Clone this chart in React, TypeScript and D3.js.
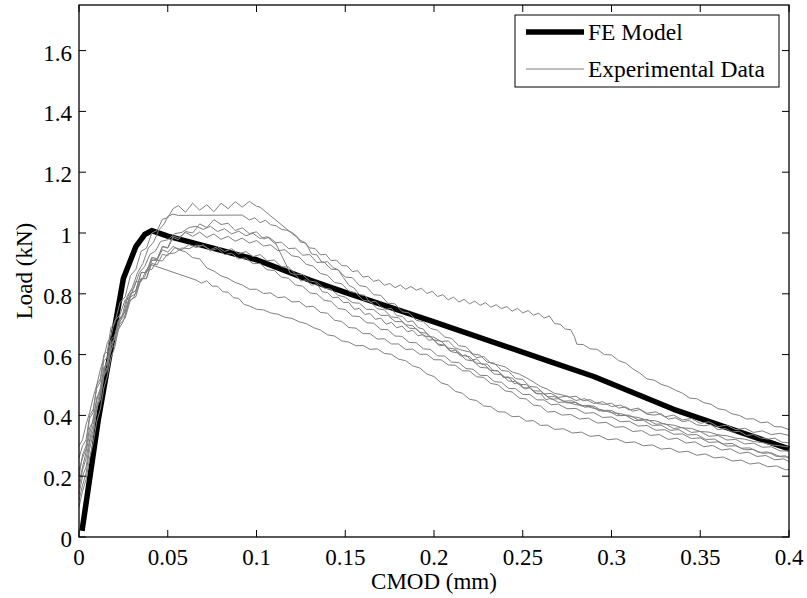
import * as d3 from "d3";

// FE model curve (CMOD mm, load kN)
const feModel: [number, number][] = [
  [0.0017, 0.02], [0.011, 0.39], [0.025, 0.85], [0.032, 0.955], [0.037, 0.995],
  [0.041, 1.008], [0.05, 0.99], [0.1, 0.912], [0.13, 0.845], [0.15, 0.805],
  [0.2, 0.708], [0.265, 0.578], [0.29, 0.528], [0.335, 0.42], [0.37, 0.35], [0.4, 0.29],
];

// experimental specimens
const spec1: [number, number][] = [
  [0,0.2],[0.002,0.27],[0.004,0.3],[0.006,0.39],[0.008,0.41],[0.01,0.5],[0.012,0.52],[0.014,0.6],[0.016,0.61],[0.018,0.69],[0.02,0.7],[0.023,0.77],[0.026,0.79],[0.029,0.86],[0.032,0.88],[0.035,0.94],[0.038,0.95],[0.041,1.0],[0.044,1.008],[0.047,1.045],[0.05,1.05],[0.053,1.08],[0.056,1.09],[0.06,1.068],[0.064,1.098],[0.068,1.075],[0.072,1.093],[0.076,1.07],[0.08,1.098],[0.084,1.08],[0.088,1.103],[0.092,1.085],[0.096,1.104],[0.1,1.088],[0.102,1.085],
  [0.1245,0.977],[0.128,0.966],[0.131,0.931],[0.134,0.928],[0.137,0.902],[0.14,0.906],[0.143,0.887],[0.146,0.879],[0.149,0.853],[0.152,0.828],[0.155,0.819],[0.158,0.797],[0.161,0.795],[0.164,0.771],[0.167,0.776],[0.17,0.758],[0.173,0.749],[0.176,0.752],[0.179,0.728],[0.182,0.726],[0.185,0.708],[0.188,0.711],[0.191,0.689],[0.194,0.684],[0.197,0.66],[0.2,0.657],[0.204,0.643],[0.208,0.645],[0.212,0.622],[0.216,0.614],[0.22,0.609],[0.224,0.59],[0.228,0.594],[0.232,0.572],[0.236,0.566],[0.24,0.56],[0.244,0.543],[0.248,0.536],[0.252,0.524],[0.256,0.51],[0.26,0.495],[0.264,0.486],[0.268,0.472],[0.272,0.468],[0.276,0.46],[0.28,0.463],[0.284,0.448],[0.288,0.452],[0.292,0.439],[0.296,0.436],[0.3,0.44],[0.304,0.424],[0.308,0.428],[0.312,0.414],[0.316,0.419],[0.32,0.404],[0.324,0.401],[0.328,0.405],[0.332,0.388],[0.336,0.392],[0.34,0.38],[0.344,0.383],[0.348,0.369],[0.352,0.366],[0.356,0.37],[0.36,0.353],[0.364,0.357],[0.368,0.345],[0.372,0.348],[0.376,0.334],[0.38,0.337],[0.384,0.326],[0.388,0.322],[0.392,0.325],[0.396,0.312],[0.4,0.31],
];
const spec2: [number, number][] = [
  [0,0.16],[0.002,0.22],[0.004,0.26],[0.006,0.32],[0.008,0.37],[0.01,0.43],[0.012,0.48],[0.015,0.56],[0.018,0.61],[0.021,0.68],[0.024,0.72],[0.027,0.79],[0.03,0.82],[0.033,0.87],[0.036,0.9],[0.039,0.95],[0.042,0.97],[0.045,1.01],[0.048,1.03],[0.05,1.055],[0.053,1.062],[0.056,1.058],[0.092,1.059],
  [0.096,1.043],[0.099,1.05],[0.102,1.034],[0.105,1.042],[0.108,1.027],[0.111,1.024],[0.114,1.012],[0.117,1.009],[0.12,1.002],[0.123,0.988],[0.1245,0.971],[0.127,0.968],[0.13,0.951],[0.133,0.949],[0.136,0.928],[0.139,0.93],[0.142,0.909],[0.145,0.911],[0.148,0.893],[0.151,0.892],[0.154,0.873],[0.157,0.876],[0.16,0.855],[0.163,0.858],[0.166,0.841],[0.169,0.846],[0.172,0.828],[0.175,0.834],[0.178,0.82],[0.181,0.829],[0.184,0.815],[0.187,0.824],[0.19,0.812],[0.193,0.818],[0.196,0.801],[0.199,0.808],[0.202,0.791],[0.205,0.797],[0.208,0.78],[0.211,0.789],[0.214,0.773],[0.217,0.782],[0.22,0.767],[0.223,0.776],[0.226,0.762],[0.229,0.771],[0.232,0.756],[0.235,0.764],[0.238,0.751],[0.241,0.758],[0.244,0.743],[0.247,0.752],[0.25,0.737],[0.253,0.745],[0.256,0.73],[0.259,0.736],[0.262,0.72],[0.265,0.727],[0.268,0.702],[0.271,0.7],[0.274,0.684],[0.277,0.682],[0.279,0.66],[0.2805,0.634],[0.284,0.633],[0.288,0.619],[0.292,0.617],[0.296,0.6],[0.3,0.599],[0.304,0.58],[0.308,0.572],[0.312,0.553],[0.316,0.539],[0.32,0.52],[0.324,0.516],[0.328,0.502],[0.332,0.495],[0.336,0.483],[0.34,0.473],[0.344,0.457],[0.348,0.455],[0.352,0.442],[0.356,0.437],[0.36,0.422],[0.364,0.418],[0.368,0.405],[0.372,0.4],[0.376,0.388],[0.38,0.389],[0.384,0.376],[0.388,0.378],[0.392,0.363],[0.396,0.362],[0.4,0.353],
];
const spec3: [number, number][] = [
  [0,0.26],[0.002,0.3],[0.004,0.32],[0.006,0.4],[0.008,0.42],[0.01,0.49],[0.012,0.51],[0.014,0.58],[0.016,0.59],[0.018,0.65],[0.02,0.66],[0.023,0.72],[0.026,0.74],[0.029,0.8],[0.032,0.81],[0.035,0.87],[0.038,0.87],[0.041,0.92],[0.044,0.915],[0.047,0.955],[0.05,0.95],[0.053,0.985],[0.056,0.978],[0.06,1.005],[0.064,1.0],[0.068,1.03],[0.072,1.018],[0.076,1.044],[0.08,1.028],[0.084,1.032],[0.088,1.008],[0.092,1.017],[0.096,0.998],[0.1,1.004],[0.104,0.98],[0.107,0.986],[0.1104,0.971],
  [0.119,0.868],[0.122,0.862],[0.125,0.842],[0.128,0.846],[0.131,0.828],[0.134,0.833],[0.137,0.807],[0.14,0.804],[0.143,0.787],[0.146,0.789],[0.149,0.771],[0.152,0.772],[0.155,0.749],[0.158,0.752],[0.161,0.732],[0.164,0.735],[0.167,0.716],[0.17,0.72],[0.173,0.7],[0.176,0.706],[0.179,0.688],[0.182,0.694],[0.185,0.675],[0.188,0.68],[0.191,0.662],[0.194,0.666],[0.197,0.647],[0.2,0.65],[0.203,0.629],[0.206,0.631],[0.209,0.611],[0.212,0.615],[0.215,0.595],[0.218,0.599],[0.221,0.581],[0.224,0.586],[0.227,0.568],[0.23,0.569],[0.233,0.549],[0.236,0.547],[0.239,0.525],[0.242,0.527],[0.245,0.505],[0.248,0.507],[0.251,0.487],[0.254,0.492],[0.257,0.473],[0.26,0.472],[0.263,0.452],[0.266,0.456],[0.27,0.443],[0.275,0.444],[0.28,0.435],[0.285,0.432],[0.29,0.423],[0.295,0.418],[0.3,0.409],[0.305,0.406],[0.31,0.397],[0.315,0.393],[0.32,0.384],[0.325,0.382],[0.33,0.371],[0.335,0.368],[0.34,0.359],[0.345,0.357],[0.35,0.347],[0.355,0.345],[0.36,0.336],[0.365,0.333],[0.37,0.325],[0.375,0.322],[0.38,0.314],[0.385,0.311],[0.39,0.303],[0.395,0.3],[0.4,0.296],
];
const spec4: [number, number][] = [
  [0,0.12],[0.002,0.17],[0.004,0.21],[0.006,0.29],[0.008,0.34],[0.01,0.42],[0.012,0.46],[0.014,0.53],[0.016,0.56],[0.018,0.63],[0.02,0.65],[0.022,0.71],[0.025,0.73],[0.028,0.8],[0.031,0.82],[0.034,0.87],[0.037,0.89],[0.04,0.93],[0.043,0.94],[0.046,0.972],[0.05,0.978],[0.054,0.998],[0.058,1.002],[0.062,1.018],[0.066,1.022],
  [0.07,1.012],[0.074,1.022],[0.078,1.005],[0.082,1.014],[0.086,0.997],[0.09,1.006],[0.094,0.991],[0.098,0.999],[0.102,0.982],[0.106,0.988],[0.11,0.967],[0.114,0.97],[0.118,0.949],[0.122,0.95],[0.126,0.927],[0.13,0.929],[0.134,0.903],[0.138,0.905],[0.142,0.881],[0.146,0.879],[0.15,0.855],[0.154,0.853],[0.158,0.827],[0.162,0.823],[0.166,0.797],[0.17,0.795],[0.174,0.769],[0.178,0.767],[0.182,0.741],[0.186,0.737],[0.19,0.713],[0.194,0.708],[0.198,0.686],[0.202,0.68],[0.206,0.658],[0.21,0.653],[0.214,0.629],[0.218,0.626],[0.222,0.602],[0.226,0.598],[0.23,0.575],[0.234,0.572],[0.238,0.548],[0.242,0.545],[0.246,0.521],[0.25,0.518],[0.254,0.495],[0.258,0.493],[0.262,0.471],[0.266,0.472],[0.27,0.459],[0.275,0.464],[0.28,0.449],[0.285,0.455],[0.29,0.439],[0.295,0.445],[0.3,0.429],[0.305,0.434],[0.31,0.418],[0.315,0.424],[0.32,0.407],[0.325,0.412],[0.33,0.395],[0.335,0.401],[0.34,0.385],[0.345,0.39],[0.35,0.374],[0.355,0.379],[0.36,0.363],[0.365,0.368],[0.37,0.353],[0.375,0.358],[0.38,0.344],[0.385,0.349],[0.39,0.337],[0.395,0.341],[0.4,0.334],
];
const spec5: [number, number][] = [
  [0,0.3],[0.002,0.32],[0.004,0.37],[0.006,0.41],[0.008,0.46],[0.01,0.5],[0.012,0.55],[0.014,0.59],[0.016,0.64],[0.018,0.66],[0.02,0.71],[0.023,0.73],[0.026,0.78],[0.029,0.79],[0.032,0.84],[0.035,0.84],[0.038,0.88],[0.041,0.88],[0.044,0.91],[0.047,0.908],[0.05,0.932],[0.054,0.934],[0.058,0.951],[0.062,0.948],[0.066,0.96],[0.07,0.958],
  [0.074,0.945],[0.078,0.955],[0.082,0.939],[0.086,0.948],[0.09,0.931],[0.094,0.939],[0.098,0.922],[0.102,0.929],[0.106,0.909],[0.11,0.911],[0.114,0.889],[0.118,0.888],[0.122,0.865],[0.126,0.863],[0.13,0.842],[0.134,0.838],[0.138,0.819],[0.142,0.815],[0.146,0.795],[0.15,0.789],[0.154,0.771],[0.158,0.769],[0.162,0.749],[0.166,0.748],[0.17,0.729],[0.174,0.729],[0.178,0.709],[0.182,0.708],[0.186,0.687],[0.19,0.685],[0.194,0.662],[0.198,0.658],[0.202,0.635],[0.206,0.631],[0.21,0.609],[0.214,0.605],[0.218,0.583],[0.222,0.579],[0.226,0.558],[0.23,0.556],[0.234,0.536],[0.238,0.534],[0.242,0.513],[0.246,0.511],[0.25,0.491],[0.254,0.49],[0.258,0.471],[0.262,0.471],[0.266,0.453],[0.27,0.455],[0.275,0.441],[0.28,0.443],[0.285,0.427],[0.29,0.431],[0.295,0.413],[0.3,0.416],[0.305,0.4],[0.31,0.401],[0.315,0.385],[0.32,0.387],[0.325,0.371],[0.33,0.373],[0.335,0.357],[0.34,0.36],[0.345,0.344],[0.35,0.347],[0.355,0.331],[0.36,0.334],[0.365,0.319],[0.37,0.321],[0.375,0.306],[0.38,0.309],[0.385,0.295],[0.39,0.297],[0.395,0.283],[0.4,0.283],
];
const spec6: [number, number][] = [
  [0,0.18],[0.002,0.23],[0.004,0.28],[0.006,0.34],[0.008,0.39],[0.01,0.45],[0.012,0.49],[0.014,0.55],[0.016,0.58],[0.018,0.63],[0.02,0.65],[0.023,0.71],[0.026,0.73],[0.029,0.79],[0.032,0.8],[0.035,0.85],[0.038,0.85],[0.041,0.9],[0.044,0.895],[0.047,0.93],[0.05,0.925],[0.054,0.952],[0.058,0.945],[0.062,0.962],
  [0.066,0.952],[0.07,0.961],[0.074,0.941],[0.078,0.949],[0.082,0.929],[0.086,0.933],[0.09,0.915],[0.094,0.918],[0.098,0.899],[0.102,0.9],[0.106,0.879],[0.11,0.877],[0.114,0.855],[0.118,0.851],[0.122,0.829],[0.126,0.825],[0.13,0.803],[0.134,0.8],[0.138,0.779],[0.142,0.775],[0.146,0.752],[0.15,0.748],[0.154,0.727],[0.158,0.725],[0.162,0.705],[0.166,0.703],[0.17,0.683],[0.174,0.682],[0.178,0.661],[0.182,0.66],[0.186,0.64],[0.19,0.639],[0.194,0.619],[0.198,0.617],[0.202,0.596],[0.206,0.595],[0.21,0.575],[0.214,0.574],[0.218,0.554],[0.222,0.552],[0.226,0.532],[0.23,0.531],[0.234,0.511],[0.238,0.509],[0.242,0.489],[0.246,0.488],[0.25,0.469],[0.254,0.469],[0.258,0.451],[0.262,0.451],[0.266,0.435],[0.27,0.437],[0.275,0.422],[0.28,0.423],[0.285,0.407],[0.29,0.409],[0.295,0.393],[0.3,0.395],[0.305,0.379],[0.31,0.381],[0.315,0.365],[0.32,0.367],[0.325,0.351],[0.33,0.353],[0.335,0.338],[0.34,0.339],[0.345,0.324],[0.35,0.326],[0.355,0.311],[0.36,0.313],[0.365,0.299],[0.37,0.3],[0.375,0.287],[0.38,0.288],[0.385,0.275],[0.39,0.277],[0.395,0.264],[0.4,0.263],
];
const spec7: [number, number][] = [
  [0,0.22],[0.002,0.26],[0.004,0.29],[0.006,0.36],[0.008,0.38],[0.01,0.46],[0.012,0.48],[0.014,0.56],[0.016,0.57],[0.018,0.64],[0.02,0.65],[0.023,0.72],[0.026,0.74],[0.029,0.8],[0.032,0.81],[0.035,0.87],[0.038,0.87],[0.041,0.915],[0.044,0.912],[0.047,0.945],[0.05,0.937],[0.053,0.956],
  [0.056,0.945],[0.06,0.938],[0.064,0.919],[0.068,0.915],[0.072,0.885],[0.076,0.875],[0.08,0.859],[0.084,0.851],[0.088,0.837],[0.092,0.829],[0.096,0.815],[0.1,0.815],[0.104,0.801],[0.108,0.803],[0.112,0.787],[0.116,0.79],[0.12,0.773],[0.124,0.775],[0.128,0.757],[0.132,0.759],[0.136,0.739],[0.14,0.736],[0.144,0.713],[0.148,0.709],[0.152,0.689],[0.156,0.687],[0.16,0.669],[0.164,0.669],[0.168,0.651],[0.172,0.652],[0.176,0.635],[0.18,0.635],[0.184,0.617],[0.188,0.618],[0.192,0.601],[0.196,0.601],[0.2,0.583],[0.204,0.583],[0.208,0.566],[0.212,0.565],[0.216,0.547],[0.22,0.546],[0.224,0.527],[0.228,0.525],[0.232,0.505],[0.236,0.501],[0.24,0.481],[0.244,0.477],[0.248,0.457],[0.252,0.454],[0.256,0.434],[0.26,0.431],[0.264,0.411],[0.268,0.413],[0.272,0.401],[0.277,0.403],[0.282,0.388],[0.287,0.391],[0.292,0.375],[0.297,0.377],[0.302,0.361],[0.307,0.363],[0.312,0.347],[0.317,0.35],[0.322,0.334],[0.327,0.337],[0.332,0.321],[0.337,0.325],[0.342,0.309],[0.347,0.313],[0.352,0.297],[0.357,0.301],[0.362,0.286],[0.367,0.29],[0.372,0.275],[0.377,0.279],[0.382,0.265],[0.387,0.268],[0.392,0.254],[0.397,0.257],[0.4,0.248],
];
const spec8: [number, number][] = [
  [0,0.1],[0.002,0.15],[0.004,0.19],[0.006,0.26],[0.008,0.31],[0.01,0.38],[0.012,0.42],[0.014,0.49],[0.016,0.53],[0.018,0.59],[0.02,0.62],[0.022,0.68],[0.025,0.71],[0.028,0.77],[0.031,0.79],[0.034,0.84],[0.037,0.855],[0.039,0.888],[0.041,0.895],
  [0.066,0.845],[0.069,0.835],[0.072,0.843],[0.075,0.825],[0.078,0.825],[0.081,0.807],[0.084,0.805],[0.087,0.787],[0.09,0.785],[0.093,0.765],[0.096,0.76],[0.1,0.749],[0.104,0.747],[0.108,0.737],[0.112,0.733],[0.116,0.723],[0.12,0.719],[0.124,0.708],[0.128,0.702],[0.132,0.689],[0.136,0.681],[0.14,0.665],[0.144,0.661],[0.148,0.645],[0.152,0.641],[0.156,0.629],[0.16,0.63],[0.164,0.617],[0.168,0.619],[0.172,0.604],[0.176,0.601],[0.18,0.585],[0.184,0.58],[0.188,0.563],[0.192,0.556],[0.196,0.536],[0.2,0.528],[0.204,0.507],[0.208,0.5],[0.212,0.479],[0.216,0.473],[0.22,0.453],[0.224,0.449],[0.228,0.431],[0.232,0.429],[0.236,0.412],[0.24,0.411],[0.244,0.396],[0.248,0.397],[0.252,0.381],[0.256,0.383],[0.26,0.367],[0.264,0.368],[0.268,0.354],[0.273,0.356],[0.278,0.342],[0.283,0.345],[0.288,0.331],[0.293,0.334],[0.298,0.32],[0.303,0.323],[0.308,0.31],[0.313,0.313],[0.318,0.3],[0.323,0.303],[0.328,0.289],[0.333,0.292],[0.338,0.279],[0.343,0.282],[0.348,0.269],[0.353,0.273],[0.358,0.26],[0.363,0.263],[0.368,0.25],[0.373,0.253],[0.378,0.24],[0.383,0.244],[0.388,0.231],[0.393,0.234],[0.398,0.221],[0.4,0.222],
];
const spec9: [number, number][] = [
  [0,0.14],[0.002,0.2],[0.004,0.23],[0.006,0.31],[0.008,0.35],[0.01,0.43],[0.012,0.45],[0.014,0.53],[0.016,0.55],[0.018,0.62],[0.02,0.63],[0.023,0.7],[0.026,0.72],[0.029,0.78],[0.032,0.79],[0.035,0.85],[0.038,0.85],[0.041,0.91],[0.044,0.91],[0.047,0.956],[0.05,0.952],[0.053,0.99],[0.056,0.984],[0.06,1.002],
  [0.064,0.989],[0.068,1.003],[0.072,0.985],[0.076,0.997],[0.08,0.979],[0.084,0.989],[0.088,0.973],[0.092,0.983],[0.096,0.967],[0.1,0.975],[0.104,0.957],[0.108,0.961],[0.112,0.942],[0.116,0.945],[0.12,0.925],[0.124,0.921],[0.128,0.897],[0.132,0.891],[0.136,0.867],[0.14,0.861],[0.144,0.837],[0.148,0.833],[0.152,0.809],[0.156,0.803],[0.16,0.779],[0.164,0.775],[0.168,0.751],[0.172,0.747],[0.176,0.724],[0.18,0.721],[0.184,0.698],[0.188,0.695],[0.192,0.673],[0.196,0.67],[0.2,0.648],[0.204,0.644],[0.208,0.622],[0.212,0.618],[0.216,0.597],[0.22,0.593],[0.224,0.572],[0.228,0.569],[0.232,0.548],[0.236,0.546],[0.24,0.525],[0.244,0.523],[0.248,0.502],[0.252,0.501],[0.256,0.481],[0.26,0.48],[0.264,0.461],[0.268,0.462],[0.273,0.447],[0.278,0.448],[0.283,0.431],[0.288,0.433],[0.293,0.415],[0.298,0.417],[0.303,0.399],[0.308,0.4],[0.313,0.383],[0.318,0.384],[0.323,0.367],[0.328,0.368],[0.333,0.351],[0.338,0.353],[0.343,0.336],[0.348,0.337],[0.353,0.321],[0.358,0.322],[0.363,0.306],[0.368,0.308],[0.373,0.292],[0.378,0.293],[0.383,0.278],[0.388,0.28],[0.393,0.265],[0.398,0.267],[0.4,0.258],
];
const experiments = [spec1, spec2, spec3, spec4, spec5, spec6, spec7, spec8, spec9];

const xTicks = [0, 0.05, 0.1, 0.15, 0.2, 0.25, 0.3, 0.35, 0.4];
const yTicks = [0, 0.2, 0.4, 0.6, 0.8, 1, 1.2, 1.4, 1.6];

const W = 807;
const H = 598;
const margin = { top: 5, right: 18, bottom: 61, left: 79 };
const FONT = "'Liberation Serif', 'Times New Roman', Times, serif";

export default function App() {
  const x = d3.scaleLinear().domain([0, 0.4]).range([margin.left, W - margin.right]);
  const y = d3.scaleLinear().domain([0, 1.75]).range([H - margin.bottom, margin.top]);
  const line = d3.line<[number, number]>().x(d => x(d[0])).y(d => y(d[1]));

  const x0 = margin.left, x1 = W - margin.right;
  const y0 = H - margin.bottom, y1 = margin.top;
  const tl = 7;
  const txt = { fontFamily: FONT, fill: "#000" };

  return (
    <svg width={W} height={H} style={{ position: "absolute", left: 0, top: 0, background: "#fff" }}>
      <rect x={0} y={0} width={W} height={H} fill="#fff" />
      <path d={line(feModel) || ""} fill="none" stroke="#000" strokeWidth={5.5} strokeLinejoin="round" />
      {experiments.map((s, i) => (
        <path key={i} d={line(s) || ""} fill="none" stroke="#808080" strokeWidth={1} strokeLinejoin="round" />
      ))}

      {/* ticks, inward on all four sides */}
      {xTicks.map(t => (
        <g key={"x" + t}>
          <line x1={x(t)} x2={x(t)} y1={y0} y2={y0 - tl} stroke="#000" strokeWidth={1} />
          <line x1={x(t)} x2={x(t)} y1={y1} y2={y1 + tl} stroke="#000" strokeWidth={1} />
          <text x={x(t)} y={y0 + 28} textAnchor="middle" fontSize={23} style={txt}>{String(t)}</text>
        </g>
      ))}
      {yTicks.map(t => (
        <g key={"y" + t}>
          <line x1={x0} x2={x0 + tl} y1={y(t)} y2={y(t)} stroke="#000" strokeWidth={1} />
          <line x1={x1} x2={x1 - tl} y1={y(t)} y2={y(t)} stroke="#000" strokeWidth={1} />
          <text x={x0 - 7} y={y(t) + 10} textAnchor="end" fontSize={23} style={txt}>{String(t)}</text>
        </g>
      ))}
      <rect x={x0} y={y1} width={x1 - x0} height={y0 - y1} fill="none" stroke="#000" strokeWidth={1.3} />

      <text x={(x0 + x1) / 2} y={589} textAnchor="middle" fontSize={23} style={txt}>CMOD (mm)</text>
      <text transform={`translate(32, ${(y0 + y1) / 2}) rotate(-90)`} textAnchor="middle" fontSize={23} style={txt}>Load (kN)</text>

      {/* legend */}
      <g>
        <rect x={515} y={15} width={264} height={72} fill="#fff" stroke="#000" strokeWidth={1} />
        <line x1={526} x2={584} y1={32} y2={32} stroke="#000" strokeWidth={5.5} />
        <text x={588} y={40} fontSize={23.5} style={txt}>FE Model</text>
        <line x1={526} x2={584} y1={69} y2={69} stroke="#808080" strokeWidth={1} />
        <text x={588} y={77} fontSize={23.5} style={txt}>Experimental Data</text>
      </g>
    </svg>
  );
}
